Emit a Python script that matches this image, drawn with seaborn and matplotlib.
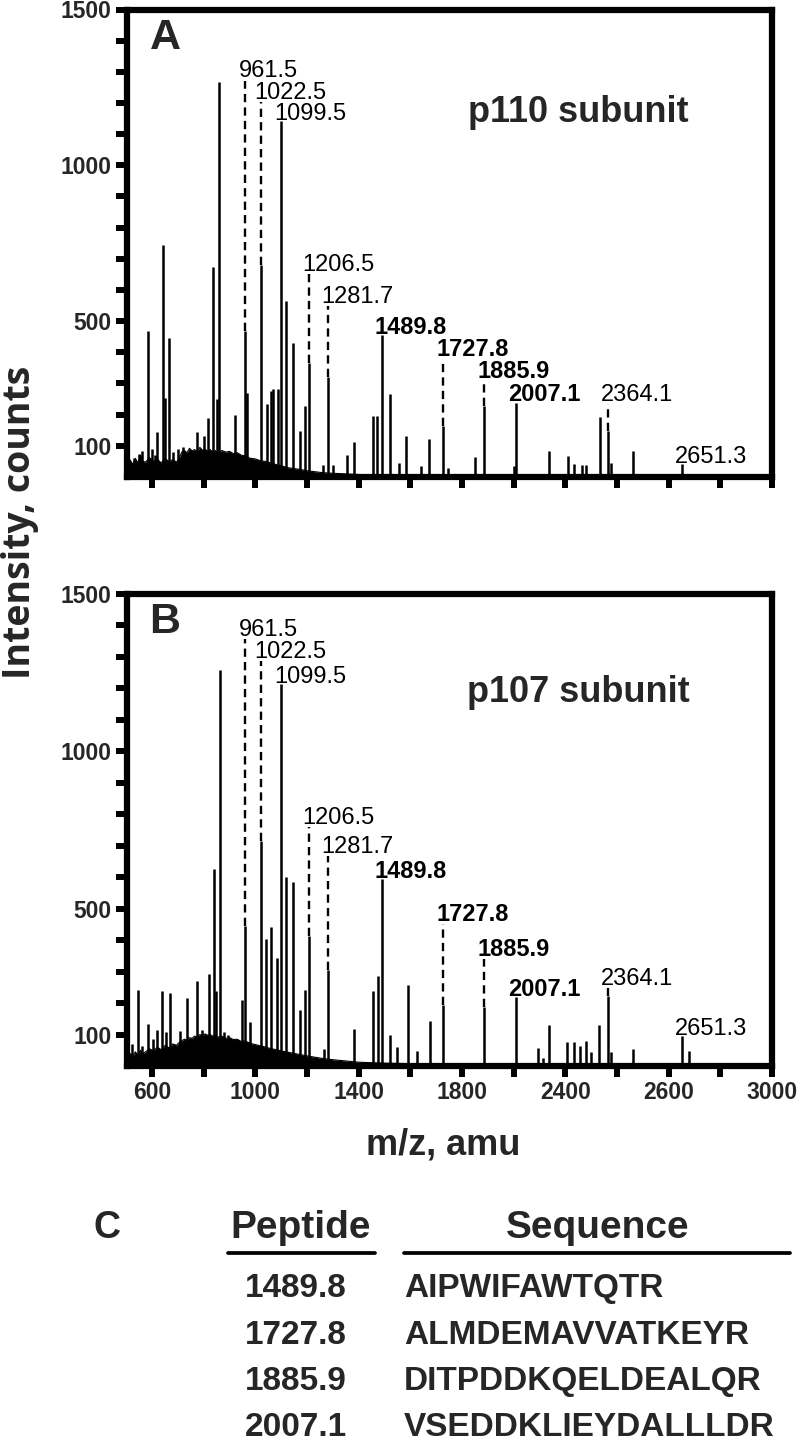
import matplotlib
matplotlib.use("Agg")
import matplotlib.pyplot as plt
import matplotlib.lines as mlines
import numpy as np
import pandas as pd
import seaborn as sns

# ---------------- data ----------------
# panel A (p110 subunit) peaks: m/z and intensity
mz_A = [530, 548, 560, 585.7, 600, 610, 621, 641, 651, 666, 680, 700, 720, 775, 800, 818, 834, 853, 861,
        922, 961.5, 969, 1022.5, 1044, 1060, 1070, 1089, 1099.5, 1117, 1144, 1172, 1192, 1206.5, 1261,
        1281.7, 1300, 1355, 1383, 1457, 1471, 1489.8, 1520, 1555, 1585, 1640, 1674, 1727.8, 1745, 1850,
        1885.9, 2000, 2007.1, 2136, 2209, 2234, 2264, 2278, 2333, 2364.1, 2375, 2460, 2651.3]
int_A = [60, 75, 85, 470, 90, 70, 144, 743, 255, 445, 80, 90, 95, 144, 130, 190, 675, 250, 1268,
         200, 468, 270, 680, 234, 277, 282, 282, 1143, 566, 431, 149, 229, 367, 40,
         321, 40, 69, 112, 197, 197, 457, 266, 45, 130, 35, 122, 165, 30, 64,
         229, 35, 239, 83, 66, 43, 37, 37, 191, 149, 45, 83, 43]

# panel B (p107 subunit) peaks
mz_B = [524, 544, 560, 583, 605, 620, 640, 654, 669, 707, 736, 775, 795, 820, 838, 848, 863, 877, 893,
        950, 961.5, 981, 1022.5, 1040, 1060, 1085, 1099.5, 1118, 1144, 1173, 1193, 1206.5, 1267, 1281.7,
        1383, 1456, 1473, 1489.8, 1520, 1550, 1589, 1624, 1677, 1727.8, 1885.9, 2007.1, 2094, 2114,
        2138, 2206, 2232, 2255, 2279, 2298, 2330, 2364.1, 2377, 2461, 2651.3, 2677]
int_B = [70, 242, 65, 134, 86, 113, 239, 108, 233, 110, 215, 271, 113, 292, 626, 237, 1258, 108, 97,
         210, 446, 140, 715, 403, 443, 344, 1215, 602, 586, 177, 242, 414, 54, 306,
         118, 239, 285, 594, 97, 59, 256, 48, 142, 194, 188, 220, 56, 27,
         129, 77, 77, 65, 81, 43, 129, 224, 43, 54, 95, 48]

# chemical-noise envelope
noise_mz = [505, 515, 525, 535, 545, 555, 565, 575, 590, 605, 620, 635, 650, 665, 680, 695, 705, 715, 725, 735,
            745, 755, 765, 775, 785, 795, 805, 815, 825, 835, 845, 855, 870, 885, 900, 915, 930, 945, 960, 980,
            1000, 1020, 1040, 1060, 1080, 1100, 1125, 1150, 1175, 1200, 1230, 1260, 1300, 1350, 1400, 1500,
            1700, 2000, 2400, 2995]
noise_A = [30, 55, 40, 60, 45, 70, 50, 48, 62, 50, 58, 45, 60, 50, 55, 48, 60, 80, 85, 78,
           92, 84, 88, 80, 95, 86, 90, 82, 88, 80, 85, 76, 85, 80, 82, 75, 78, 70, 68, 60,
           58, 52, 50, 45, 40, 36, 30, 27, 24, 20, 17, 14, 12, 10, 8, 6, 5, 4, 4, 3]
noise_B = [25, 40, 30, 45, 35, 50, 40, 45, 55, 48, 60, 52, 65, 58, 70, 66, 75, 80, 85, 82,
           90, 88, 95, 92, 100, 96, 102, 98, 100, 95, 98, 92, 95, 88, 90, 84, 85, 78, 80, 72,
           68, 64, 60, 55, 52, 48, 44, 40, 36, 32, 28, 24, 20, 16, 12, 9, 6, 5, 4, 3]

# annotated peaks: label, m/z, bold, dashed leader
ann_labels = ['961.5', '1022.5', '1099.5', '1206.5', '1281.7', '1489.8', '1727.8', '1885.9', '2007.1',
              '2364.1', '2651.3']
ann_mz = [961.5, 1022.5, 1099.5, 1206.5, 1281.7, 1489.8, 1727.8, 1885.9, 2007.1, 2364.1, 2651.3]
ann_bold = [False, False, False, False, False, True, True, True, True, False, False]
ann_dashed = [True, True, False, True, True, False, True, True, False, True, False]

# axis ticks
x_ticks = [600, 800, 1000, 1200, 1400, 1600, 1800, 2000, 2200, 2400, 2600, 2800, 3000]
x_ticklabels = ['600', '', '1000', '', '1400', '', '1800', '', '2400', '', '2600', '', '3000']
y_ticks = [100, 200, 300, 400, 500, 600, 700, 800, 900, 1000, 1100, 1200, 1300, 1400, 1500]
y_ticklabels = ['100', '', '', '', '500', '', '', '', '', '1000', '', '', '', '', '1500']

# table C
peptides = ['1489.8', '1727.8', '1885.9', '2007.1']
sequences = ['AIPWIFAWTQTR', 'ALMDEMAVVATKEYR', 'DITPDDKQELDEALQR', 'VSEDDKLIEYDALLLDR']

# ---------------- layout ----------------
W, H = 797, 1445
label_base_A = [1282, 1213, 1146, 660, 559, 459, 388, 319, 245, 245, 46]
label_base_B = [1366, 1296, 1217, 769, 677, 598, 462, 349, 222, 258, 98]
row_base = [1297, 1344, 1390, 1436]

sns.set_style("ticks")
plt.rcParams['font.family'] = ['Liberation Sans', 'DejaVu Sans']
plt.rcParams['axes.linewidth'] = 4.5

fig = plt.figure(figsize=(W / 100, H / 100), dpi=100)


def fx(px):
    return px / W


def fy(py):
    return 1 - py / H


axA = fig.add_axes([fx(127), fy(477), (772 - 127) / W, (477 - 9.5) / H])
axB = fig.add_axes([fx(127), fy(1066), (772 - 127) / W, (1066 - 594) / H])


def draw_panel(ax, mz, inten, noise, bases, letter, title, show_xlabels, title_y, letter_y):
    ndf = pd.DataFrame({'mz': noise_mz, 'i': noise})
    ax.fill_between(ndf['mz'], 0, ndf['i'], color='black', lw=0)
    sns.lineplot(data=ndf, x='mz', y='i', ax=ax, color='black', lw=0.8)
    ax.vlines(mz, 0, inten, color='black', lw=1.8)
    peak_lookup = dict(zip(mz, inten))
    for lab, m, b, d, base in zip(ann_labels, ann_mz, ann_bold, ann_dashed, bases):
        ax.annotate(lab, xy=(m, base), xytext=(-5, 0), textcoords='offset points',
                    ha='left', va='baseline', fontsize=17,
                    fontweight='bold' if b else 'normal', color='black')
        if d:
            ax.vlines(m, peak_lookup[m], base - 10, color='black', lw=1.7,
                      linestyles=(0, (3.5, 2.2)))
    ax.set_xlim(503, 3000)
    ax.set_ylim(0, 1500)
    ax.set_xticks(x_ticks)
    ax.set_yticks(y_ticks)
    ax.set_yticklabels(y_ticklabels, fontweight='bold', fontsize=16.5)
    if show_xlabels:
        ax.set_xticklabels(x_ticklabels, fontweight='bold', fontsize=16.5)
    else:
        ax.set_xticklabels([])
    ax.tick_params(axis='both', direction='out', length=8, width=4.3, color='black', pad=3)
    for s in ax.spines.values():
        s.set_visible(True)
        s.set_linewidth(4.5)
        s.set_color('black')
    ax.set_xlabel('')
    ax.set_ylabel('')
    ax.text(0.059, letter_y, letter, transform=ax.transAxes, fontsize=31, fontweight='bold',
            ha='center', va='center')
    ax.text(0.70, title_y, title, transform=ax.transAxes, fontsize=26, fontweight='bold',
            ha='center', va='center')


draw_panel(axA, mz_A, int_A, noise_A, label_base_A, 'A', 'p110 subunit', False, 0.779, 0.939)
draw_panel(axB, mz_B, int_B, noise_B, label_base_B, 'B', 'p107 subunit', True, 0.792, 0.941)

fig.text(fx(20), fy(522), 'Intensity, counts', rotation=90, ha='center', va='center',
         fontsize=27, fontweight='bold', family=['Open Sans', 'DejaVu Sans'])
fig.text(fx(443), fy(1145), 'm/z, amu', ha='center', va='center', fontsize=26, fontweight='bold')

# table C
fig.text(fx(107), fy(1238), 'C', ha='center', va='baseline', fontsize=27, fontweight='bold')
fig.text(fx(301), fy(1238), 'Peptide', ha='center', va='baseline', fontsize=28, fontweight='bold')
fig.text(fx(598), fy(1238), 'Sequence', ha='center', va='baseline', fontsize=28, fontweight='bold')
fig.add_artist(mlines.Line2D([fx(228), fx(375)], [fy(1253), fy(1253)], color='black', lw=2.7))
fig.add_artist(mlines.Line2D([fx(404), fx(790)], [fy(1253), fy(1253)], color='black', lw=2.7))
for p, s, yb in zip(peptides, sequences, row_base):
    fig.text(fx(296), fy(yb), p, ha='center', va='baseline', fontsize=24, fontweight='bold')
    fig.text(fx(404), fy(yb), s, ha='left', va='baseline', fontsize=24, fontweight='bold')

fig.savefig('out.png', dpi=100)
